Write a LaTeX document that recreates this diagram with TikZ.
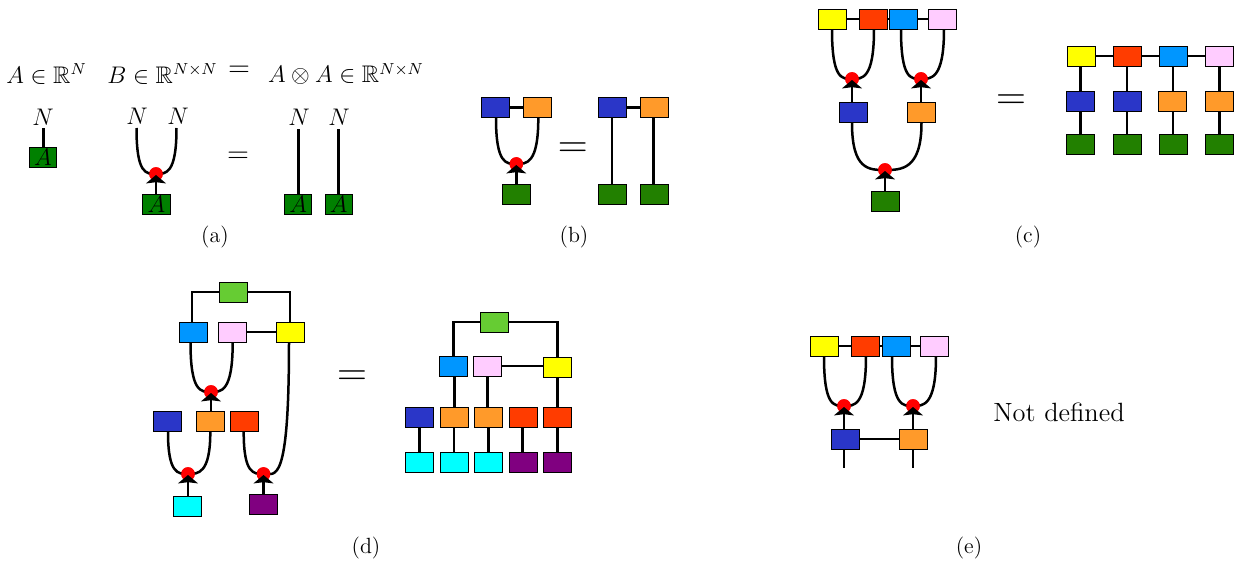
\documentclass[tikz,border=0pt]{standalone}
\usepackage{amsmath,amssymb}
\usetikzlibrary{arrows.meta}
\definecolor{cA}{HTML}{008000}
\definecolor{cG}{HTML}{228000}
\definecolor{cB}{HTML}{2A36C8}
\definecolor{cO}{HTML}{FF9A2A}
\definecolor{cY}{HTML}{FFFF00}
\definecolor{cR}{HTML}{FF3C00}
\definecolor{cL}{HTML}{0096FF}
\definecolor{cP}{HTML}{FFCCFF}
\definecolor{cC}{HTML}{00FFFF}
\definecolor{cV}{HTML}{800080}
\definecolor{cM}{HTML}{66CC33}
\newcommand{\bx}[4]{\node[tensorbox,fill=#2] (#1) at (#3,#4) {};}
\newcommand{\abx}[3]{\node[tensorbox,fill=cA,minimum width=13.6pt] (#1) at (#2,#3) {$A$};}
\newcommand{\vw}[3]{\draw[wire] (#1,0 |- #2.south) -- (#1,0 |- #3.north);}
\newcommand{\myind}{5pt}
% \strands[out distance]{dot}{x}{y}{left start}{right start}{source}
\newcommand{\strands}[7][24pt]{%
  \node[fusedot] (#2) at (#3,#4) {};
  \draw[wire] #5 to[out=-90,in=180,out distance=#1,in distance=\myind] (#2.center);
  \draw[wire] #6 to[out=-90,in=0,out distance=#1,in distance=\myind] (#2.center);
  \node[fusedot] at (#2) {};
  \draw[wire,-{Stealth[length=4.2pt,width=10pt,inset=0.6pt]}] (#2.center |- #7.north) -- ([yshift=-0.5pt]#2.center);
}
\tikzset{
  x=0.5pt,y=-0.5pt,
  tensorbox/.style={draw=black,line width=0.45pt,minimum width=14pt,minimum height=10pt,inner sep=0pt,font=\fontsize{12}{14}\selectfont},
  fusedot/.style={circle,fill=red,minimum size=6.8pt,inner sep=0pt},
  wire/.style={line width=1.25pt},
  mathlabel/.style={inner sep=0pt,font=\fontsize{12}{14}\selectfont},
  nlabel/.style={inner sep=0pt,font=\fontsize{13}{15}\selectfont},
  smalleq/.style={inner sep=0pt,font=\fontsize{14.3}{16}\selectfont},
  bigeq/.style={inner sep=0pt,font=\fontsize{21}{24}\selectfont},
  caption/.style={inner sep=0pt,font=\fontsize{11}{13}\selectfont},
}
\begin{document}
\begin{tikzpicture}
\useasboundingbox (0,0) rectangle (1239,562);
% ---- (a)
\node[mathlabel] (t1) at (46.5,74) {$A\in\mathbb{R}^{N}$};
\node[mathlabel] (t2) at (162.5,74) {$B\in\mathbb{R}^{N\times N}$};
\node[smalleq] (t3) at (239,71) {$=$};
\node[mathlabel] (t4) at (346,74) {$A\otimes A\in\mathbb{R}^{N\times N}$};
\node[nlabel] (n1) at (43,117) {$N$};
\node[nlabel] (n2) at (137,116) {$N$};
\node[nlabel] (n3) at (178,116) {$N$};
\node[nlabel] (n4) at (299,117) {$N$};
\node[nlabel] (n5) at (339,117) {$N$};
\abx{a1}{43}{157.5}
\abx{a2}{156.5}{204.5}
\abx{a3}{298.3}{204.5}
\abx{a4}{338.7}{204.5}
\coordinate (e1) at (43.3,128);
\coordinate (e2) at (136.5,128);
\coordinate (e3) at (176.5,128);
\coordinate (e4) at (298.3,129);
\coordinate (e5) at (338.7,129);
\draw[wire] (e1 |- a1.north) -- (e1);
\strands[23pt]{da}{156}{174}{(e2)}{(e3)}{a2}
\draw[wire] (e4 |- a3.north) -- (e4);
\draw[wire] (e5 |- a4.north) -- (e5);
\node[smalleq] (eqa) at (238,157) {$=$};
\node[caption] (capa) at (215,237) {(a)};
% ---- (b)
\bx{b1}{cB}{495.7}{107.7}
\bx{b2}{cO}{537.7}{107.7}
\bx{b3}{cG}{516.7}{194.5}
\draw[wire] (b1) -- (b2);
\strands[23pt]{db}{516.3}{164}{(496,0 |- b1.south)}{(538.3,0 |- b2.south)}{b3}
\node[bigeq] (eqb) at (572.7,150) {$=$};
\bx{b4}{cB}{612.7}{107.7}
\bx{b5}{cO}{654.7}{107.7}
\bx{b6}{cG}{612}{194.5}
\bx{b7}{cG}{654.3}{194.5}
\draw[wire] (b4) -- (b5);
\vw{612}{b4}{b6}
\vw{653.7}{b5}{b7}
\node[caption] (capb) at (574,237) {(b)};
% ---- (c)
\bx{c1}{cY}{832.5}{19}
\bx{c2}{cR}{873}{19}
\bx{c3}{cL}{903.5}{19}
\bx{c4}{cP}{942}{19}
\bx{c5}{cB}{853}{112.5}
\bx{c6}{cO}{921}{112.5}
\bx{c7}{cG}{885}{201}
\draw[wire] (c1) -- (c2);
\draw[wire] (c2) -- (c3);
\draw[wire] (c3) -- (c4);
\strands[25pt]{dc1}{852}{79}{(832,0 |- c1.south)}{(874,0 |- c2.south)}{c5}
\strands[25pt]{dc2}{921}{79}{(901,0 |- c3.south)}{(944,0 |- c4.south)}{c6}
\renewcommand{\myind}{8pt}
\strands[23.5pt]{dc3}{885}{170}{(852,0 |- c5.south)}{(921.5,0 |- c6.south)}{c7}
\renewcommand{\myind}{5pt}
\node[bigeq] (eqc) at (1011,102) {$=$};
\bx{r1}{cY}{1081}{56}
\bx{r2}{cR}{1127}{56}
\bx{r3}{cL}{1173}{56}
\bx{r4}{cP}{1219}{56}
\bx{r5}{cB}{1080.7}{101}
\bx{r6}{cB}{1127.8}{101}
\bx{r7}{cO}{1172.7}{101}
\bx{r8}{cO}{1219}{101}
\bx{r9}{cG}{1080.7}{144.5}
\bx{r10}{cG}{1127}{144.5}
\bx{r11}{cG}{1173}{144.5}
\bx{r12}{cG}{1219.5}{144.5}
\draw[wire] (r1) -- (r2);
\draw[wire] (r2) -- (r3);
\draw[wire] (r3) -- (r4);
\vw{1080.7}{r1}{r5}
\vw{1127}{r2}{r6}
\vw{1173}{r3}{r7}
\vw{1219.3}{r4}{r8}
\vw{1080.7}{r5}{r9}
\vw{1127}{r6}{r10}
\vw{1173}{r7}{r11}
\vw{1219.3}{r8}{r12}
\node[caption] (capc) at (1028,237) {(c)};
% ---- (d)
\bx{d1}{cM}{233}{292}
\bx{d2}{cL}{193.5}{332}
\bx{d3}{cP}{232}{332}
\bx{d4}{cY}{290}{332}
\bx{d5}{cB}{167.5}{421.5}
\bx{d6}{cO}{210}{421.5}
\bx{d7}{cR}{244.5}{421.5}
\bx{d8}{cC}{187.5}{506.5}
\bx{d9}{cV}{263}{504.5}
\draw[wire] (d1.west) -| (192,0 |- d2.north);
\draw[wire] (d1.east) -| (d4.north);
\draw[wire] (d3) -- (d4);
\strands[25pt]{dd1}{211}{392}{(190.5,0 |- d2.south)}{(232.7,0 |- d3.south)}{d6}
\strands[21pt]{dd2}{188}{474}{(168,0 |- d5.south)}{(210.3,0 |- d6.south)}{d8}
% the long right strand of the last fusion point
\node[fusedot] (dd3) at (263.5,474) {};
\draw[wire] (243.7,0 |- d7.south) to[out=-90,in=180,out distance=21pt,in distance=5pt] (dd3.center);
\draw[wire] (289,0 |- d4.south) to[out=-90,in=0,out distance=72pt,in distance=6pt] (dd3.center);
\node[fusedot] at (dd3) {};
\draw[wire,-{Stealth[length=4.2pt,width=10pt,inset=0.6pt]}] (dd3.center |- d9.north) -- ([yshift=-0.5pt]dd3.center);
\node[bigeq] (eqd) at (352,378) {$=$};
\bx{s1}{cM}{494.5}{322}
\bx{s2}{cL}{453.3}{366}
\bx{s3}{cP}{487}{366}
\bx{s4}{cY}{557.7}{367.5}
\bx{s5}{cB}{419.3}{417.5}
\bx{s6}{cO}{454}{417.5}
\bx{s7}{cO}{488.7}{417.5}
\bx{s8}{cR}{523.3}{417.5}
\bx{s9}{cR}{557.7}{417.5}
\bx{s10}{cC}{419.7}{462}
\bx{s11}{cC}{454.3}{462}
\bx{s12}{cC}{488.7}{462}
\bx{s13}{cV}{523.3}{462}
\bx{s14}{cV}{557.7}{462}
\draw[wire] (s1.west) -| (453.7,0 |- s2.north);
\draw[wire] (s1.east) -| (557.7,0 |- s4.north);
\draw[wire] (s3.east) -- (s3.east -| s4.west);
\vw{454.7}{s2}{s6}
\vw{487.7}{s3}{s7}
\vw{557.7}{s4}{s9}
\vw{419.7}{s5}{s10}
\vw{454}{s6}{s11}
\vw{488.7}{s7}{s12}
\vw{522.7}{s8}{s13}
\vw{557.3}{s9}{s14}
\node[caption] (capd) at (366,548) {(d)};
% ---- (e)
\bx{f1}{cY}{824}{346}
\bx{f2}{cR}{865}{346}
\bx{f3}{cL}{896}{346}
\bx{f4}{cP}{934}{346}
\bx{f5}{cB}{845}{439}
\bx{f6}{cO}{913}{439}
\draw[wire] (f1) -- (f2);
\draw[wire] (f2) -- (f3);
\draw[wire] (f3) -- (f4);
\draw[wire] (f5) -- (f6);
\strands[25pt]{de1}{844}{406}{(824,0 |- f1.south)}{(866,0 |- f2.south)}{f5}
\strands[25pt]{de2}{913}{406}{(892,0 |- f3.south)}{(936,0 |- f4.south)}{f6}
\coordinate (g1) at (844,468);
\coordinate (g2) at (913,468);
\draw[wire] (g1 |- f5.south) -- (g1);
\draw[wire] (g2 |- f6.south) -- (g2);
\node[inner sep=0pt,font=\fontsize{13.2}{15}\selectfont] (nd) at (1059,412) {Not defined};
\node[caption] (cape) at (969,548) {(e)};
\end{tikzpicture}
\end{document}
